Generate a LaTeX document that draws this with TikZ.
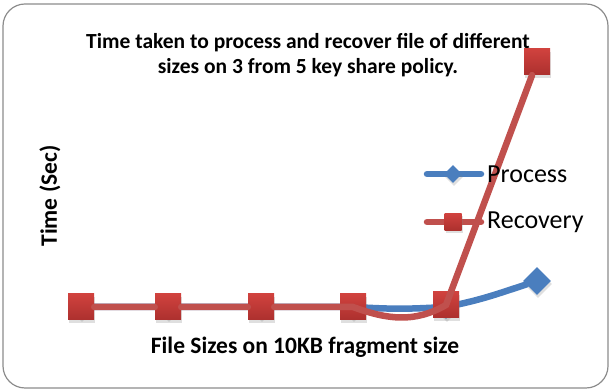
\documentclass[tikz,border=0pt]{standalone}
\usepackage{fontspec}
\setmainfont{Carlito}
\usetikzlibrary{shapes.geometric, shadows, positioning}

\definecolor{procblue}{RGB}{74,126,190}
\definecolor{recred}{RGB}{192,80,77}
\definecolor{recdark}{RGB}{172,48,46}
\definecolor{reclight}{RGB}{208,66,62}
\definecolor{framegray}{RGB}{140,140,140}

\begin{document}
\begin{tikzpicture}[
        x=1pt, y=1pt,
        series/.style = {
            line width=6.5pt,
            line cap=round
        },
        proc/.style = {series, draw=procblue},
        rec/.style = {series, draw=recred},
        dmark/.style = {
            diamond,
            fill=procblue,
            inner sep=0pt,
            minimum size=24pt,
            drop shadow={opacity=0.25, shadow xshift=1pt, shadow yshift=-3pt}
        },
        smark/.style = {
            rectangle,
            top color=reclight,
            bottom color=recdark,
            inner sep=0pt,
            minimum size=26pt,
            drop shadow={opacity=0.25, shadow xshift=1pt, shadow yshift=-3pt}
        },
        lbl/.style = {
            font=\fontsize{23.5}{28}\selectfont\bfseries
        },
        legendtext/.style = {
            font=\fontsize{26}{30}\selectfont,
            anchor=west,
            inner sep=0pt
        }
    ]
        \useasboundingbox (0,0) rectangle (611,390);
        \draw [framegray, line width=1.2pt, rounded corners=22pt] (3,2) rectangle (608,386);

        % titles and axis labels
        \node [lbl, font=\fontsize{21.5}{25}\selectfont\bfseries, align=center] (title) at (308,335) {Time taken to process and recover file of different\\sizes on 3 from 5 key share policy.};
        \node [lbl, rotate=90] (ylab) at (50,194) {Time (Sec)};
        \node [lbl] (xlab) at (305,43) {File Sizes on 10KB fragment size};

        % Process series
        \node [dmark] (p1) at (81,83)  {};
        \node [dmark] (p2) at (168,83) {};
        \node [dmark] (p3) at (261,83) {};
        \node [dmark] (p4) at (353,83) {};
        \node [dmark] (p5) at (446,83) {};
        \node [dmark, minimum size=28pt] (p6) at (537,109) {};
        \draw [proc] (p1) -- (p2) -- (p3) -- (p4)
            to[out=-3, in=183] (p5)
            to[out=12, in=198] (p6);

        % Recovery series
        \node [smark] (r1) at (81,83)  {};
        \node [smark] (r2) at (168,83) {};
        \node [smark] (r3) at (261,83) {};
        \node [smark] (r4) at (353,83) {};
        \node [smark] (r5) at (446,85) {};
        \node [smark] (r6) at (537,328) {};
        \draw [rec] (r1) -- (r2) -- (r3) -- (r4.center)
            to[out=-20, in=210] (r5.center)
            -- (r6);

        % legend
        \coordinate (lp1) at (427,216);
        \coordinate (lp2) at (481,216);
        \draw [proc] (lp1) -- (lp2);
        \node [dmark, minimum size=18pt] (lpm) at (453,216) {};
        \node [legendtext] (lpt) at (487,216) {Process};

        \coordinate (lr1) at (427,168);
        \coordinate (lr2) at (481,168);
        \draw [rec] (lr1) -- (lr2);
        \node [smark, minimum size=17pt] (lrm) at (453,168) {};
        \node [legendtext] (lrt) at (487,168) {Recovery};
    \end{tikzpicture}
\end{document}
